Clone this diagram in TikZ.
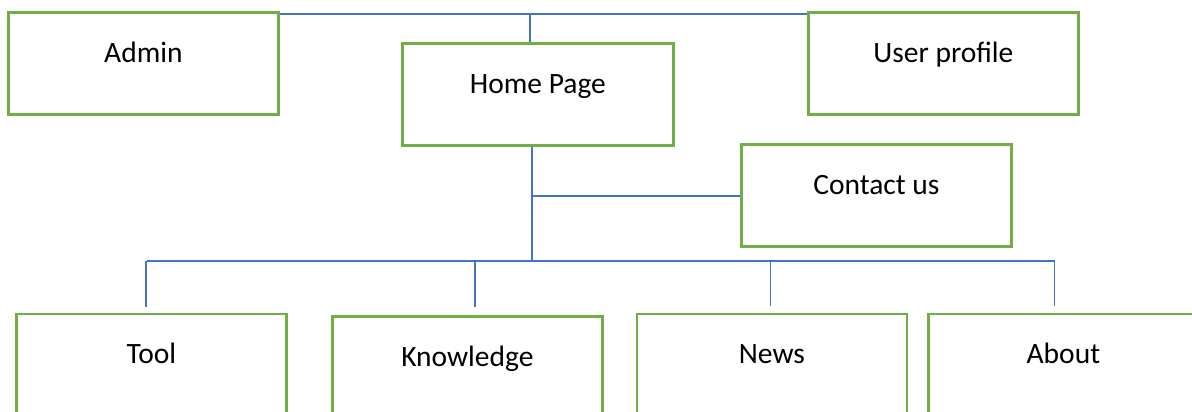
\documentclass[tikz,border=0pt]{standalone}
\usepackage{fontspec}
\setmainfont{Carlito}
\definecolor{boxgreen}{HTML}{70AD47}
\definecolor{linkblue}{HTML}{4472C4}
\begin{document}
\begin{tikzpicture}[x=1pt,y=-1pt,
  box/.style={draw=boxgreen, line width=2.8pt, inner sep=0pt, minimum width=270pt,
    text height=50pt, text depth=52pt, font=\fontsize{29.5}{35}\selectfont, anchor=north west},
  link/.style={draw=linkblue, line width=1.3pt}]
\fill[white] (0,0) rectangle (1192,412);
\useasboundingbox (0,0) rectangle (1192,412);
% boxes
\node[box] (admin) at (7,11) {Admin};
\node[box, minimum width=271pt] (home) at (401,42) {Home Page};
\node[box] (user) at (807,11) {User profile};
\node[box] (contact) at (740,143) {Contact us};
\node[box] (tool) at (15,312.5) {Tool};
\node[box] (know) at (331,315) {Knowledge};
\node[box] (news) at (635.5,312.5) {News};
\node[box] (about) at (927,312.5) {About};
% connector points
\coordinate (topbus) at (530,14);
\coordinate (hub) at (532,261);
\coordinate (cjoin) at (532,196);
\coordinate (busL) at (147,261);
\coordinate (busR) at (1055,261);
\coordinate (dtool) at (146,261);
\coordinate (dknow) at (475,261);
\coordinate (dnews) at (770.5,261);
\coordinate (dabout) at (1054.5,261);
% connectors
\draw[link] (admin.east |- topbus) -- (user.west |- topbus);
\draw[link] (topbus) -- (topbus |- home.north);
\draw[link] (hub |- home.south) -- (hub);
\draw[link] (cjoin) -- (contact.west |- cjoin);
\draw[link] (busL) -- (busR);
\draw[link] (dtool) -- ++(0,46);
\draw[link] (dknow) -- ++(0,46);
\draw[link] (dnews) -- ++(0,45);
\draw[link] (dabout) -- ++(0,45);
\end{tikzpicture}
\end{document}
